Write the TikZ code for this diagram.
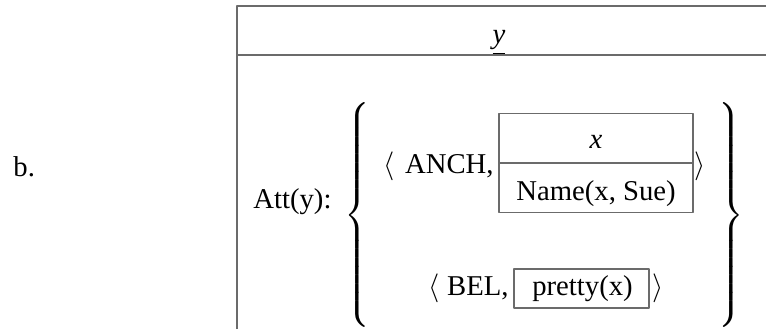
\documentclass[tikz,border=0pt]{standalone}
\usepackage{amsmath}
\usepackage{fontspec}
\setmainfont{Liberation Serif}
\usepackage{tikz}

\tikzset{
  frame/.style={draw=black!58, line width=1pt},
  cell/.style={draw=black!58, line width=0.7pt, inner sep=0pt},
  txt/.style={inner sep=0pt, anchor=base},
}

\begin{document}
\begin{tikzpicture}[x=0.5pt, y=-0.5pt, line join=round, font=\fontsize{14.35}{17}\selectfont]

  \useasboundingbox (0,0) rectangle (766,329);

  % outer box (runs off the right and bottom edge)
  \draw[frame] (236.5,329) -- (236.5,5.7) -- (766,5.7);
  \draw[frame] (236.5,54.5) -- (766,54.5);
  \node[txt] (refy) at (499,43) {\underline{\textit{y}}};

  % label and attitude name
  \node[txt, anchor=base west] (lbl) at (13,176) {b.};
  \node[txt, anchor=base west] (att) at (253,208) {Att(y):};

  % big braces
  \node[inner sep=0pt, anchor=west] (lbrace) at (344,215)
    {$\nulldelimiterspace=0pt\left\{\vrule height 59.6pt depth 52.4pt width 0pt\right.$};
  \node[inner sep=0pt, anchor=east] (rbrace) at (744,215)
    {$\nulldelimiterspace=0pt\left.\vrule height 59.6pt depth 52.4pt width 0pt\right\}$};

  % first pair
  \node[txt, anchor=base east] (anch) at (494,173) {$\langle$\hspace{5pt}ANCH,};
  \node[cell, minimum width=194*0.5pt, minimum height=99*0.5pt] (sub) at (596,163) {};
  \draw[cell] (sub.west) -- (sub.east);
  \node[txt] (subx) at (596,148) {\textit{x}};
  \node[txt] (subcond) at (596,200) {Name(x, Sue)};
  \node[txt, anchor=base west] (anchend) at (694,173) {$\rangle$};

  % second pair
  \node[txt, anchor=base east] (bel) at (509,295) {$\langle$\hspace{4pt}BEL,};
  \node[cell, minimum width=135*0.5pt, minimum height=39*0.5pt] (pr) at (581.5,288.5) {};
  \node[txt] (prtext) at (582.5,295) {pretty(x)};
  \node[txt, anchor=base west] (belend) at (652,295) {$\rangle$};

\end{tikzpicture}
\end{document}
